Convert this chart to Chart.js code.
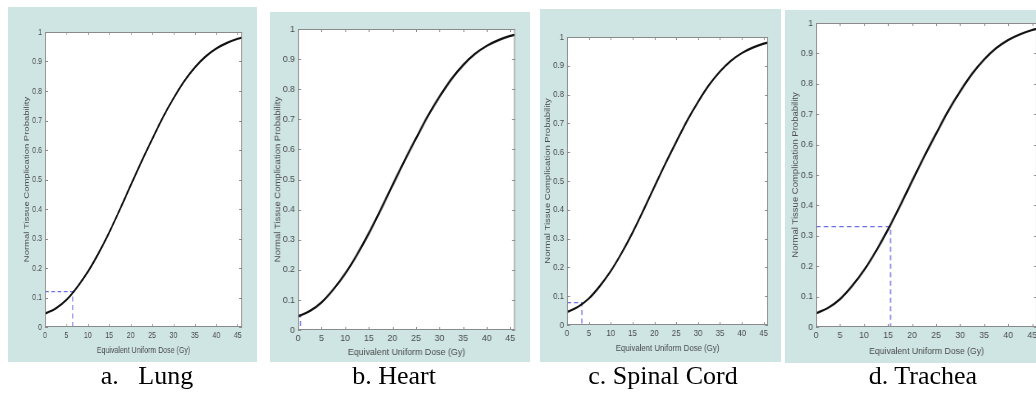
<!DOCTYPE html>
<html><head><meta charset="utf-8">
<script src="https://cdn.jsdelivr.net/npm/chart.js@4.4.1/dist/chart.umd.min.js"></script>
<style>
html,body{margin:0;padding:0;background:#fff;width:1036px;height:394px;overflow:hidden;position:relative}
.panel{position:absolute;background:#cee5e4;overflow:hidden}
.panel canvas{position:absolute;left:0;top:0;transform-origin:0 0}
.cap{position:absolute;font-family:"Liberation Serif","Times New Roman",serif;font-size:26px;line-height:26px;color:#000;white-space:pre;transform:translateX(-50%)}
</style></head><body>
<script>
// ---- data ----
const doseGy   = [0, 2.5, 5, 7.5, 10, 12.5, 15, 17.5, 20, 22.5, 25, 27.5, 30, 32.5, 35, 37.5, 40, 42.5, 45, 46];
const ntcpCurve = [0.045, 0.063, 0.092, 0.135, 0.187, 0.250, 0.321, 0.399, 0.480, 0.560, 0.636, 0.710, 0.775, 0.833, 0.880, 0.917, 0.944, 0.963, 0.977, 0.981];
const organs     = ['a.   Lung', 'b. Heart', 'c. Spinal Cord', 'd. Trachea'];
const markerDose = [6.5, 0.5, 3.4, 15.5];
const markerNtcp = [0.12, 0.05, 0.078, 0.33];
const xTicks = [0, 5, 10, 15, 20, 25, 30, 35, 40, 45];
const yTicks = [0, 0.1, 0.2, 0.3, 0.4, 0.5, 0.6, 0.7, 0.8, 0.9, 1];
const xTitle = 'Equivalent Uniform Dose (Gy)';
const yTitle = 'Normal Tissue Complication Probability';

// ---- layout (page pixels) ----
const panels = [
  {bgL:8,   bgT:7,  bgR:257,  bgB:362, pL:45,  pR:242,  pT:32, pB:327, yTx:27,  xTy:350, sx:0.74, capX:147},
  {bgL:270, bgT:12, bgR:530,  bgB:362, pL:298, pR:515,  pT:29, pB:330, yTx:278, xTy:352, sx:0.93, capX:394},
  {bgL:540, bgT:9,  bgR:781,  bgB:362, pL:567, pR:768,  pT:37, pB:325, yTx:548, xTy:348, sx:0.82, capX:663},
  {bgL:785, bgT:10, bgR:1050, bgB:363, pL:816, pR:1037, pT:23, pB:327, yTx:795, xTy:351, sx:0.91, capX:923}
];
const FS = 9.5, LH = FS * 1.2;
const axisGray = '#8a8a8a', textGray = '#4a4a4a';

const boxTicks = {
  id: 'boxTicks',
  beforeDraw(chart) {
    const {ctx, chartArea: a} = chart;
    ctx.save();
    ctx.fillStyle = '#ffffff';
    ctx.fillRect(a.left, a.top, a.right - a.left, a.bottom - a.top);
    ctx.restore();
  },
  afterDraw(chart, args, opts) {
    const {ctx, chartArea: a, scales: {x, y}} = chart;
    ctx.save();
    ctx.strokeStyle = axisGray;
    ctx.lineWidth = 1;
    ctx.strokeRect(a.left + 0.5, a.top + 0.5, a.right - a.left - 1, a.bottom - a.top - 1);
    ctx.beginPath();
    const tly = 3, tlx = 3 / opts.sx;
    xTicks.forEach(v => {
      const px = Math.round(x.getPixelForValue(v)) + 0.5;
      ctx.moveTo(px, a.bottom); ctx.lineTo(px, a.bottom - tly);
      ctx.moveTo(px, a.top); ctx.lineTo(px, a.top + tly);
    });
    yTicks.forEach(v => {
      const py = Math.round(y.getPixelForValue(v)) + 0.5;
      ctx.moveTo(a.left, py); ctx.lineTo(a.left + tlx, py);
      ctx.moveTo(a.right, py); ctx.lineTo(a.right - tlx, py);
    });
    ctx.stroke();
    ctx.restore();
  }
};

panels.forEach((p, i) => {
  const div = document.createElement('div');
  div.className = 'panel';
  const W = p.bgR - p.bgL, H = p.bgB - p.bgT;
  Object.assign(div.style, {left: p.bgL + 'px', top: p.bgT + 'px', width: W + 'px', height: H + 'px'});
  const Wu = Math.round(W / p.sx);
  const cv = document.createElement('canvas');
  cv.width = Wu; cv.height = H;
  cv.style.width = Wu + 'px'; cv.style.height = H + 'px';
  cv.style.transform = 'scaleX(' + p.sx + ')';
  div.appendChild(cv);
  document.body.appendChild(div);

  const Lu = (p.pL - p.bgL) / p.sx, Ru = (p.pR - p.bgL) / p.sx;
  const T = p.pT - p.bgT, B = p.pB - p.bgT;
  const padL = (p.yTx - p.bgL) / p.sx - LH / 2;
  const yW = Lu - padL;
  const xH = (p.xTy - p.pB) + LH / 2;
  const padB = H - B - xH;
  const padR = Wu - Ru;

  const font = {family: '"Liberation Sans", Arial, sans-serif', size: FS};
  new Chart(cv, {
    type: 'line',
    data: {
      datasets: [
        {data: doseGy.map((d, k) => ({x: d, y: ntcpCurve[k]})), borderColor: '#111', borderWidth: 2.2,
         pointRadius: 0, cubicInterpolationMode: 'monotone', fill: false},
        {data: [{x: 0, y: markerNtcp[i]}, {x: markerDose[i], y: markerNtcp[i]}, {x: markerDose[i], y: 0}],
         borderColor: '#6e6ee8', borderWidth: 1.3, borderDash: [5, 3.5], pointRadius: 0, tension: 0, fill: false}
      ]
    },
    options: {
      responsive: false, animation: false, devicePixelRatio: 1,
      layout: {padding: {left: padL, top: T, right: padR, bottom: padB}},
      plugins: {legend: {display: false}, tooltip: {enabled: false}, boxTicks: {sx: p.sx}},
      scales: {
        x: {type: 'linear', min: 0, max: 46,
            afterBuildTicks: s => { s.ticks = xTicks.map(v => ({value: v})); },
            afterFit: s => { s.height = xH; },
            grid: {display: false, drawTicks: false}, border: {display: false},
            ticks: {font, color: textGray, padding: 3, maxRotation: 0, autoSkip: false, callback: v => String(v)},
            title: {display: true, text: xTitle, font, color: textGray, padding: 0}},
        y: {type: 'linear', min: 0, max: 1,
            afterBuildTicks: s => { s.ticks = yTicks.map(v => ({value: v})); },
            afterFit: s => { s.width = yW; },
            grid: {display: false, drawTicks: false}, border: {display: false},
            ticks: {font, color: textGray, padding: 3 / p.sx, autoSkip: false, callback: v => String(v)},
            title: {display: true, text: yTitle, font, color: textGray, padding: 0}}
      }
    },
    plugins: [boxTicks]
  });

  const cap = document.createElement('div');
  cap.className = 'cap';
  cap.textContent = organs[i];
  cap.style.left = p.capX + 'px';
  cap.style.top = '363px';
  document.body.appendChild(cap);
});
</script>
</body></html>
